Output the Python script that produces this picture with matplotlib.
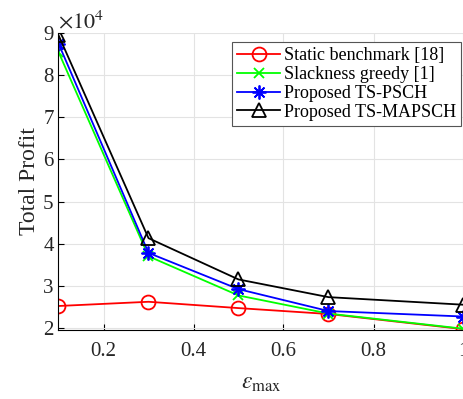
import numpy as np
import matplotlib
matplotlib.use("Agg")
import matplotlib.pyplot as plt

plt.rcParams['font.family'] = 'Liberation Serif'
plt.rcParams['mathtext.fontset'] = 'stix'

# data (units of 10^4)
eps_max = [0.1, 0.3, 0.5, 0.7, 1.0]
static_bench = [2.52, 2.62, 2.47, 2.33, 1.97]
slack_greedy = [8.55, 3.70, 2.77, 2.34, 1.98]
ts_psch = [8.75, 3.78, 2.92, 2.40, 2.27]
ts_mapsch = [8.95, 4.13, 3.15, 2.73, 2.55]

labels = ['Static benchmark [18]', 'Slackness greedy [1]',
          'Proposed TS-PSCH', 'Proposed TS-MAPSCH']

txt = '#262626'
fig = plt.figure(figsize=(4.64, 3.99), dpi=100)
ax = fig.add_axes([58.5/464, 1-330/399, (463.5-58.5)/464, (330-33)/399])

ax.plot(eps_max, static_bench, color='red', marker='o', ms=10, mfc='none', mew=1.3, lw=1.3, label=labels[0])
ax.plot(eps_max, slack_greedy, color='#00ff00', marker='x', ms=7, mew=1.3, lw=1.3, label=labels[1])
ax.plot(eps_max, ts_psch, color='blue', marker=(8, 2, 0), ms=10, mew=1.3, lw=1.3, label=labels[2])
ax.plot(eps_max, ts_mapsch, color='black', marker='^', ms=10, mfc='none', mew=1.3, lw=1.3, label=labels[3])

ax.set_xlim(0.1, 1.0)
ax.set_ylim(1.95, 9)
ax.set_xticks([0.2, 0.4, 0.6, 0.8, 1.0])
ax.set_xticklabels(['0.2', '0.4', '0.6', '0.8', '1'])
ax.set_yticks([2, 3, 4, 5, 6, 7, 8, 9])
ax.tick_params(direction='in', labelsize=15, length=4, labelcolor=txt)
ax.tick_params(axis='x', pad=9)
ax.grid(True, color='#e3e3e3', lw=0.8)
ax.spines['top'].set_visible(False)
ax.spines['right'].set_visible(False)

ax.set_xlabel(r'$\epsilon_{\rm max}$', fontsize=17, color=txt, labelpad=8)
ax.set_ylabel('Total Profit', fontsize=17, color=txt, labelpad=2)
ax.text(0.0, 1.0, r'$\times10^4$', transform=ax.transAxes, fontsize=16, va='bottom', ha='left', color=txt)

leg = ax.legend(loc='upper right', bbox_to_anchor=(0.995, 0.97), fontsize=13, fancybox=False,
                edgecolor='#555555', framealpha=1, borderpad=0.3, labelspacing=0.1,
                handlelength=2.4, handletextpad=0.2, borderaxespad=0)
leg.get_frame().set_linewidth(0.8)

fig.savefig('out.png', dpi=100)
